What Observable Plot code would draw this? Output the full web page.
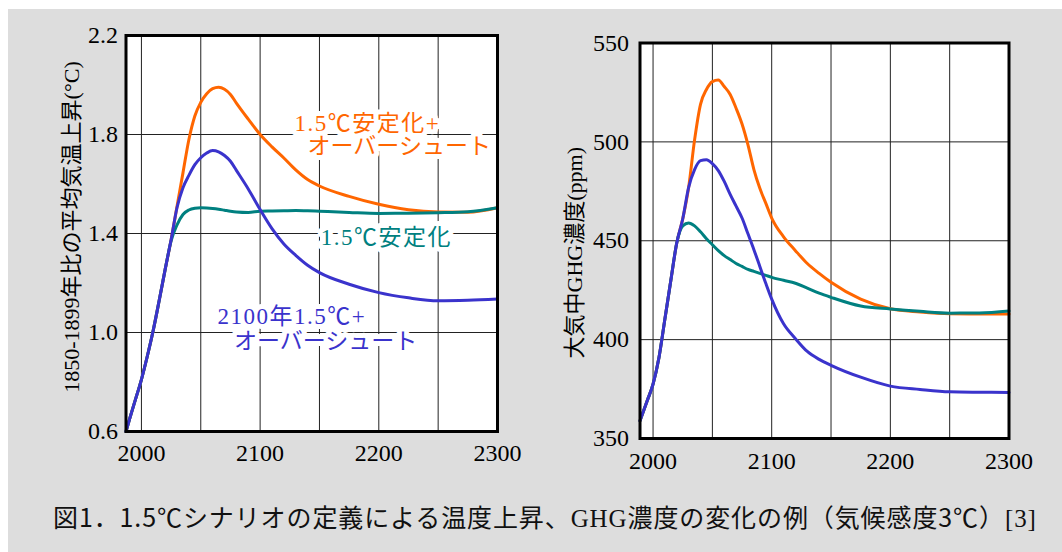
<!DOCTYPE html>
<html><head><meta charset="utf-8">
<script src="https://cdn.jsdelivr.net/npm/d3@7"></script>
<script src="https://cdn.jsdelivr.net/npm/@observablehq/plot@0.6"></script>
<style>
body{margin:0;background:#fff;width:1062px;height:552px;overflow:hidden;position:relative}
#bg{position:absolute;left:8px;top:9px;width:1054px;height:543px;background:#dddddd}
#left{position:absolute;left:0;top:0;width:530px;height:480px}
#right{position:absolute;left:530px;top:0;width:532px;height:480px}
#left svg text, #right svg text{font-family:"Liberation Serif","Noto Sans CJK JP",serif}
#caption{position:absolute;left:53px;top:501px;font-family:"Noto Sans CJK JP";font-size:25px;letter-spacing:0.9px;line-height:30px;color:#111;white-space:nowrap}
.serif{font-family:"Liberation Serif"}
</style></head><body>
<div id="bg"></div>
<div id="left"></div><div id="right"></div>
<div id="caption">図1．1.5℃シナリオの定義による温度上昇、<span class="serif">GHG</span>濃度の変化の例（気候感度3℃）<span class="serif">[3]</span></div>
<script>
// ---------- data ----------
const seriesNames = ["1.5℃安定化+オーバーシュート", "1.5℃安定化", "2100年1.5℃+オーバーシュート"];
const seriesColors = ["#ff6600", "#008080", "#3a33cc"];

// Temperature rise (°C, vs 1850-1899)
const tempYears       = [1987,1990,1995,2000,2005,2010,2015,2020,2025,2030,2035,2040,2045,2050,2055,2060,2065,2070,2075,2080,2090,2100,2110,2120,2130,2140,2150,2175,2200,2225,2250,2275,2300];
const tempOvershoot   = [0.60,0.65,0.73,0.81,0.905,1.01,1.13,1.255,1.375,1.51,1.645,1.78,1.875,1.93,1.965,1.985,1.991,1.983,1.962,1.927,1.862,1.80,1.75,1.705,1.657,1.618,1.592,1.55,1.518,1.496,1.487,1.486,1.504];
const tempStabilized  = [0.60,0.65,0.73,0.81,0.905,1.01,1.13,1.255,1.37,1.435,1.477,1.495,1.502,1.504,1.503,1.501,1.498,1.494,1.49,1.487,1.485,1.49,1.491,1.492,1.493,1.492,1.49,1.485,1.481,1.482,1.484,1.488,1.504];
const temp2100        = [0.60,0.65,0.73,0.81,0.905,1.01,1.13,1.255,1.375,1.505,1.585,1.635,1.678,1.706,1.725,1.735,1.73,1.715,1.692,1.655,1.58,1.497,1.42,1.358,1.312,1.272,1.242,1.195,1.161,1.14,1.128,1.13,1.135];

// Atmospheric GHG concentration (ppm)
const ghgYears        = [1989,1995,2000,2005,2010,2015,2020,2025,2030,2035,2040,2045,2050,2055,2060,2065,2070,2075,2080,2085,2090,2095,2100,2110,2120,2130,2140,2150,2175,2200,2225,2250,2275,2300];
const ghgOvershoot    = [359,369,377.5,391,410.5,430,449,461,477,501,519,526.5,530.5,531.3,528,524,517,509,498.5,486,476.5,469,461.5,452,445,438.5,433.5,429,420.5,415.6,414,413.1,413,413];
const ghgStabilized   = [359,369,377.5,391,410.5,430,449,457.5,459,457.5,454.5,451,448,445,442.5,440.5,438.5,437,435.5,434.5,433.5,432.5,431.5,430,428.5,426,423.5,421.4,417,415.5,414.3,413.4,413.5,414.5];
const ghg2100         = [359,369,377.5,391,410.5,430,449,461,477,486,490.5,491,489,485.5,480,473.5,467.5,461.5,453.5,445.5,437,428.5,420.5,408,400.5,394,390,387,381,376.5,374.8,373.6,373.4,373.3];

const tempTicks = [0.6, 1.0, 1.4, 1.8, 2.2];
const ghgTicks = [350, 400, 450, 500, 550];
const yearTicks = [2000, 2100, 2200, 2300];
const yearGrid = [2000, 2050, 2100, 2150, 2200, 2250];
const tempTitle = "1850-1899年比の平均気温上昇(°C)";
const ghgTitle = "大気中GHG濃度(ppm)";

// in-chart labels (left chart)
const annotText   = ["1.5℃安定化+", "オーバーシュート", "1.5℃安定化", "2100年1.5℃+", "オーバーシュート"];
const annotYear   = [2129, 2140, 2151, 2064, 2078];
const annotValue  = [1.843, 1.753, 1.383, 1.063, 0.964];
const annotSeries = [0, 0, 1, 2, 2];

// ---------- build ----------
function rows(years, lists) {
  const out = [];
  lists.forEach((vals, k) => years.forEach((yr, i) => out.push({year: yr, value: vals[i], series: seriesNames[k]})));
  return out;
}
const tempRows = rows(tempYears, [tempOvershoot, tempStabilized, temp2100]);
const ghgRows = rows(ghgYears, [ghgOvershoot, ghgStabilized, ghg2100]);
const annots = annotText.map((t, i) => ({text: t, year: annotYear[i], value: annotValue[i], series: seriesNames[annotSeries[i]]}));

const serifFont = "Liberation Serif";
const colorScale = {domain: seriesNames, range: seriesColors};

function chart({width, height, margins, xDomain, yDomain, yTicksList, yFormat, data, title, titleDx, titleDy, yPad, xPad, labels}) {
  return Plot.plot({
    width, height,
    marginLeft: margins[0], marginRight: margins[1], marginTop: margins[2], marginBottom: margins[3],
    style: {background: "transparent", overflow: "visible", color: "black"},
    x: {domain: xDomain, label: null},
    y: {domain: yDomain, label: null},
    color: colorScale,
    marks: [
      Plot.frame({fill: "white"}),
      Plot.gridX(yearGrid, {stroke: "#222", strokeOpacity: 1, strokeWidth: 1}),
      Plot.gridY(yTicksList, {stroke: "#222", strokeOpacity: 1, strokeWidth: 1}),
      Plot.line(data, {x: "year", y: "value", z: "series", stroke: "series", strokeWidth: 3, curve: "monotone-x"}),
      labels ? Plot.text(labels, {x: "year", y: "value", text: "text", fill: "series", textAnchor: "start",
        fontSize: 23, fontFamily: serifFont, stroke: "white", strokeWidth: 10, strokeLinejoin: "round"}) : null,
      Plot.frame({stroke: "black", strokeWidth: 3}),
      Plot.axisX(yearTicks, {tickSize: 0, tickPadding: xPad, fontSize: 24, fontFamily: serifFont, label: null, tickFormat: d => String(d)}),
      Plot.axisY(yTicksList, {tickSize: 0, tickPadding: yPad, fontSize: 24, fontFamily: serifFont, label: null, tickFormat: yFormat}),
      Plot.text([title], {frameAnchor: "left", textAnchor: "middle", rotate: -90, dx: titleDx, dy: titleDy, fontSize: 22, fontFamily: serifFont, fill: "black", text: d => d})
    ]
  });
}

document.getElementById("left").append(chart({
  width: 530, height: 480, margins: [125.5, 33, 35, 49],
  xDomain: [1987, 2300], yDomain: [0.6, 2.2], yTicksList: tempTicks, yFormat: d => d.toFixed(1), data: tempRows,
  title: tempTitle, titleDx: -54.5, titleDy: -6.5, yPad: 8, xPad: 12, labels: annots
}));
document.getElementById("right").append(chart({
  width: 532, height: 480, margins: [109.5, 53.5, 42.5, 42],
  xDomain: [1989, 2300], yDomain: [350, 550], yTicksList: ghgTicks, yFormat: d => String(d), data: ghgRows,
  title: ghgTitle, titleDx: -65.5, titleDy: 12, yPad: 11, xPad: 13, labels: null
}));

// widen the in-chart labels slightly, like the reference's wide Gothic text
document.querySelectorAll("#left svg text[fill]").forEach(t => {
  if (/[0-9]/.test(t.textContent)) t.style.letterSpacing = "1.5px";
});
</script>
</body></html>
